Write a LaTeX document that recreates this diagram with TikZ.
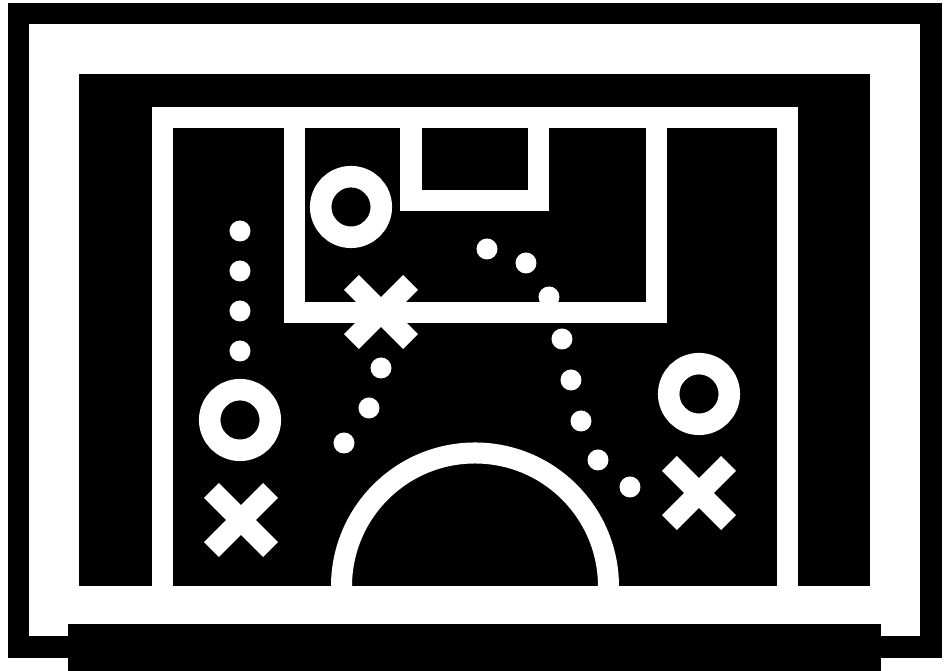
\documentclass[tikz,border=0pt]{standalone}

\tikzset{
  fieldline/.style={white, line width=0.21cm},
  ringmark/.style={white, line width=0.215cm},
  dotmark/.style={white},
  crossmark/.pic={
    \draw[white, line width=0.21cm] (-29.6,-29.6) -- (29.6,29.6);
    \draw[white, line width=0.21cm] (-29.6,29.6) -- (29.6,-29.6);
  }
}

\begin{document}
\begin{tikzpicture}[
  x=0.01cm,
  y=-0.01cm
]
  \useasboundingbox (0,0) rectangle (944,671);
  \fill[white] (0,0) rectangle (944,671);

  % Frame
  \fill[black] (8,3) rectangle (942,658);
  \fill[white] (29,24) rectangle (920,636);
  \fill[black] (79,74) rectangle (870,586.5);

  % Field
  \fill[white] (152,107) rectangle (798,586.5);
  \fill[black] (173,128) rectangle (777,586.5);

  % Penalty area and goal area
  \draw[fieldline]
    (294.5,128) -- (294.5,312.8) -- (656.5,312.8) -- (656.5,128);
  \draw[fieldline]
    (411,128) -- (411,200.5) -- (538.5,200.5) -- (538.5,128);

  % Centre circle
  \draw[fieldline]
    (341.5,586.5)
    arc[
      start angle=180,
      end angle=360,
      radius=133.5
    ];

  % Bottom bar
  \fill[black] (68.5,623.7) rectangle (881,671);

  % Rings
  \draw[ringmark] (351,207) circle[radius=30.3];
  \draw[ringmark] (240,420) circle[radius=30.3];
  \draw[ringmark] (699,394) circle[radius=30.3];

  % Crosses
  \pic at (381,312) {crossmark};
  \pic at (241,520) {crossmark};
  \pic at (699,493) {crossmark};

  % Left run
  \fill[dotmark] (240,231) circle[radius=10.5];
  \fill[dotmark] (240,271) circle[radius=10.5];
  \fill[dotmark] (240,311) circle[radius=10.5];
  \fill[dotmark] (240,351) circle[radius=10.5];

  % Middle run
  \fill[dotmark] (381,368) circle[radius=10.5];
  \fill[dotmark] (369,408) circle[radius=10.5];
  \fill[dotmark] (344,443) circle[radius=10.5];

  % Right run
  \fill[dotmark] (487,249) circle[radius=10.5];
  \fill[dotmark] (526,263) circle[radius=10.5];
  \fill[dotmark] (549,297) circle[radius=10.5];
  \fill[dotmark] (562,339) circle[radius=10.5];
  \fill[dotmark] (571,380) circle[radius=10.5];
  \fill[dotmark] (581,421) circle[radius=10.5];
  \fill[dotmark] (598,460) circle[radius=10.5];
  \fill[dotmark] (630,487) circle[radius=10.5];
\end{tikzpicture}
\end{document}
